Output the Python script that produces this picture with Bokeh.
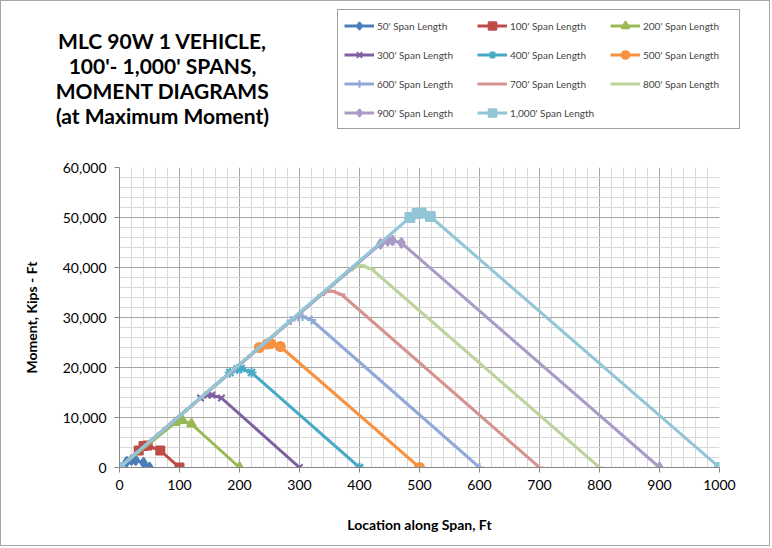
from bokeh.plotting import figure
from bokeh.layouts import column
from bokeh.models import (Range1d, SingleIntervalTicker, NumeralTickFormatter, Legend,
                          LegendItem, Label)
from bokeh.embed import file_html
from bokeh.resources import INLINE

# ---------------- data ----------------
series_names = ["50' Span Length", "100' Span Length", "200' Span Length",
                "300' Span Length", "400' Span Length", "500' Span Length",
                "600' Span Length", "700' Span Length", "800' Span Length",
                "900' Span Length", "1,000' Span Length"]

x50 = [0, 12, 20, 27, 40, 50]
y50 = [0, 1150, 1500, 1450, 950, 0]
x100 = [0, 32, 40, 47, 68, 100]
y100 = [0, 3400, 4300, 4400, 3400, 0]
x200 = [0, 93, 100, 105, 120, 200]
y200 = [0, 9000, 9400, 9400, 8700, 0]
x300 = [0, 135, 147, 154, 170, 300]
y300 = [0, 13900, 14500, 14500, 13900, 0]
x400 = [0, 184, 196, 203, 220, 400]
y400 = [0, 19000, 19700, 19800, 19000, 0]
x500 = [0, 233, 246, 252, 268, 500]
y500 = [0, 24000, 24700, 24800, 24200, 0]
x600 = [0, 286, 298, 305, 320, 600]
y600 = [0, 29400, 30100, 30200, 29500, 0]
x700 = [0, 336, 347, 354, 370, 700]
y700 = [0, 34500, 35200, 35300, 34600, 0]
x800 = [0, 384, 396, 404, 420, 800]
y800 = [0, 39400, 40200, 40400, 39700, 0]
x900 = [0, 435, 447, 455, 470, 900]
y900 = [0, 44700, 45300, 45400, 44900, 0]
x1000 = [0, 484, 496, 503, 518, 1000]
y1000 = [0, 50000, 50800, 50900, 50200, 0]

xs = [x50, x100, x200, x300, x400, x500, x600, x700, x800, x900, x1000]
ys = [y50, y100, y200, y300, y400, y500, y600, y700, y800, y900, y1000]

colors = ["#4A7EBB", "#BE4B48", "#98B954", "#7D60A0", "#46AAC5", "#F69240",
          "#90A9D8", "#D49391", "#BDD39B", "#A99BC6", "#92C5D8"]
markers = ["diamond", "square", "triangle", "x", "asterisk", "circle",
           "cross", "dash", "dash", "diamond", "square"]
msizes = [10, 8, 9, 9, 10, 9, 9, 8, 8, 10, 9]

x_ticks_interval = 100
y_ticks_interval = 10000

title_lines = ["MLC 90W 1 VEHICLE,", "100'- 1,000' SPANS,",
               "MOMENT DIAGRAMS", "(at Maximum Moment)"]

FONT = "Lato"
W = 768
HEAD_H = 158
LB, RB = 118, 50

# ---------------- header: title + legend ----------------
head = figure(width=W, height=HEAD_H, output_backend="svg", toolbar_location=None,
              x_range=Range1d(0, W), y_range=Range1d(HEAD_H, 0),
              min_border_left=0, min_border_right=0, min_border_top=0,
              min_border_bottom=0)
head.frame_align = False
head.axis.visible = False
head.grid.visible = False
head.outline_line_color = None

items = []
for name, c, m, s in zip(series_names, colors, markers, msizes):
    # legend proxies placed outside the visible range
    r1 = head.line(x=[-50, -40], y=[-50, -40], line_color=c, line_width=3)
    r2 = head.scatter(x=[-50], y=[-50], marker=m, size=s, fill_color=c,
                      line_color=c, line_width=2)
    items.append(LegendItem(label=name, renderers=[r1, r2]))

# legend fills column by column (4 rows): reorder so rows read 50,100,200 / 300,...
order = [0, 3, 6, 9, 1, 4, 7, 10, 2, 5, 8]
legend = Legend(items=[items[i] for i in order], ncols=3, location=(336, 30),
                label_text_font=FONT, label_text_font_size="10px",
                glyph_width=30, glyph_height=19, label_height=19, label_width=90,
                label_standoff=3, spacing=10, padding=6, margin=0,
                border_line_color="#404040", border_line_width=1,
                background_fill_color="white", background_fill_alpha=1)
head.add_layout(legend, "center")

for i, t in enumerate(title_lines):
    head.add_layout(Label(x=161, y=39 + i * 25, text=t, text_align="center",
                          text_baseline="middle", text_font=FONT,
                          text_font_size="21px", text_font_style="bold",
                          text_color="#000000"))

# ---------------- main chart ----------------
p = figure(width=W, height=386, output_backend="svg", toolbar_location=None,
           x_range=Range1d(0, 1000), y_range=Range1d(0, 60000),
           min_border_left=LB, min_border_right=RB, min_border_top=8,
           min_border_bottom=78)
p.outline_line_color = None
p.background_fill_color = "white"

p.xaxis.ticker = SingleIntervalTicker(interval=x_ticks_interval, num_minor_ticks=5)
p.yaxis.ticker = SingleIntervalTicker(interval=y_ticks_interval, num_minor_ticks=5)
p.yaxis.formatter = NumeralTickFormatter(format="0,0")
for ax in (p.xaxis[0], p.yaxis[0]):
    ax.axis_line_color = "#868686"
    ax.major_tick_line_color = "#868686"
    ax.major_tick_out = 5
    ax.major_tick_in = 0
    ax.minor_tick_line_color = None
    ax.major_label_text_font = FONT
    ax.major_label_text_font_size = "14px"
    ax.major_label_text_color = "#000000"
    ax.axis_label_text_font = FONT
    ax.axis_label_text_font_size = "14px"
    ax.axis_label_text_font_style = "bold"
    ax.axis_label_text_color = "#000000"
p.xaxis.axis_label = "Location along Span, Ft"
p.yaxis.axis_label = "Moment, Kips - Ft"
p.xaxis.major_label_standoff = 7
p.xaxis.axis_label_standoff = 23
p.yaxis.major_label_standoff = 8
p.yaxis.axis_label_standoff = 20

for g in (p.xgrid[0], p.ygrid[0]):
    g.grid_line_color = "#a6a6a6"
    g.grid_line_width = 1
    g.minor_grid_line_color = "#d9d9d9"
    g.minor_grid_line_width = 1

for xv, yv, c, m, s in zip(xs, ys, colors, markers, msizes):
    p.line(xv, yv, line_color=c, line_width=3)
    p.scatter(xv, yv, marker=m, size=s, fill_color=c, line_color=c, line_width=2)

layout = column(head, p, spacing=0)
layout.styles = {"border": "1px solid #a6a6a6"}

open("out.html", "w").write(file_html(layout, INLINE))
